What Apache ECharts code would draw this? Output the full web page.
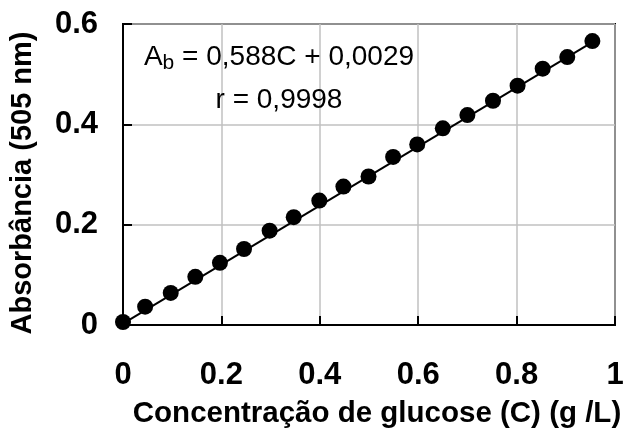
<!DOCTYPE html>
<html>
<head>
<meta charset="utf-8">
<script src="https://cdn.jsdelivr.net/npm/echarts@6/dist/echarts.min.js"></script>
<style>
  html, body { margin: 0; padding: 0; background: #fff; }
  #chart { width: 629px; height: 434px; }
</style>
</head>
<body>
<div id="chart"></div>
<script>
// Glucose calibration: concentration (g/L) vs absorbance at 505 nm
const concentration = [0, 0.045, 0.097, 0.147, 0.197, 0.246, 0.298, 0.347, 0.399, 0.448,
                       0.499, 0.549, 0.598, 0.65, 0.70, 0.752, 0.802, 0.853, 0.903, 0.954];
const absorbance = [0.006, 0.0365, 0.064, 0.096, 0.124, 0.1515, 0.188, 0.215, 0.248, 0.276,
                    0.296, 0.335, 0.36, 0.392, 0.4185, 0.447, 0.477, 0.511, 0.534, 0.566];

// Linear fit reported on the chart
const slope = 0.588;
const intercept = 0.0029;
const rValue = '0,9998';

const xTicks = { min: 0, max: 1, step: 0.2 };
const yTicks = { min: 0, max: 0.6, step: 0.2 };

const points = concentration.map((c, i) => [c, absorbance[i]]);
const cEnd = concentration[concentration.length - 1];
const fitLine = [[0, intercept], [cEnd, slope * cEnd + intercept]];

const font = 'Liberation Sans, Arial, sans-serif';

const chart = echarts.init(document.getElementById('chart'), null, { renderer: 'canvas' });
chart.setOption({
  animation: false,
  backgroundColor: '#fff',
  grid: {
    left: 123, right: 14, top: 24, bottom: 109,
    containLabel: false, outerBoundsMode: 'none',
    show: true, borderColor: '#000', borderWidth: 2
  },
  xAxis: {
    type: 'value', min: xTicks.min, max: xTicks.max, interval: xTicks.step,
    name: 'Concentração de glucose (C) (g /L)',
    nameLocation: 'middle', nameGap: 74,
    nameTextStyle: { fontFamily: font, fontWeight: 'bold', fontSize: 29.5, color: '#000', padding: [0, 0, 0, 16] },
    axisLine: { show: true, lineStyle: { color: '#000', width: 2 } },
    axisTick: { show: true, inside: true, length: 9, lineStyle: { color: '#000', width: 2 } },
    axisLabel: { margin: 35, fontFamily: font, fontWeight: 'bold', fontSize: 31, color: '#000' },
    splitLine: { show: true, lineStyle: { color: '#c0c0c0', width: 1.5 } }
  },
  yAxis: {
    type: 'value', min: yTicks.min, max: yTicks.max, interval: yTicks.step,
    name: 'Absorbância (505 nm)',
    nameLocation: 'middle', nameGap: 86, nameRotate: 90,
    nameTextStyle: { fontFamily: font, fontWeight: 'bold', fontSize: 29, color: '#000', padding: [0, 17, 0, 0] },
    axisLine: { show: true, lineStyle: { color: '#000', width: 2 } },
    axisTick: { show: true, inside: true, length: 9, lineStyle: { color: '#000', width: 2 } },
    axisLabel: { margin: 25, fontFamily: font, fontWeight: 'bold', fontSize: 31, color: '#000' },
    splitLine: { show: true, lineStyle: { color: '#c0c0c0', width: 1.5 } }
  },
  graphic: [
    {
      type: 'text', x: 279, y: 57, z: 100,
      style: {
        text: 'A{sub|b} = 0,588C + 0,0029',
        align: 'center', verticalAlign: 'middle',
        fontFamily: font, fontSize: 28, fill: '#000',
        rich: {
          sub: { fontFamily: font, fontSize: 21, fill: '#000', padding: [12, 0, 0, 0] }
        }
      }
    },
    {
      type: 'text', x: 279, y: 100, z: 100,
      style: {
        text: 'r = ' + rValue,
        align: 'center', verticalAlign: 'middle',
        fontFamily: font, fontSize: 28, fill: '#000'
      }
    }
  ],
  series: [
    {
      type: 'line', data: fitLine, showSymbol: false, symbol: 'none',
      lineStyle: { color: '#000', width: 2 }, z: 2, silent: true
    },
    {
      type: 'scatter', data: points, symbol: 'circle', symbolSize: 16,
      itemStyle: { color: '#000', opacity: 1 }, z: 3, clip: false
    }
  ]
});
</script>
</body>
</html>
